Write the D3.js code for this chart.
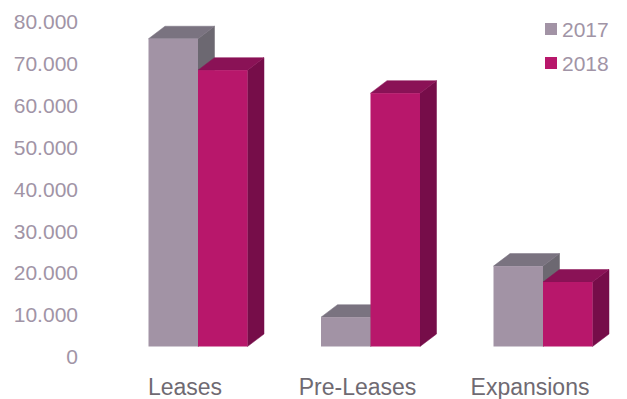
<!DOCTYPE html>
<html>
<head>
<meta charset="utf-8">
<script src="https://cdn.jsdelivr.net/npm/d3@7/dist/d3.min.js"></script>
<style>
  html, body { margin: 0; padding: 0; background: #fff; }
  svg { display: block; }
  text { font-family: "Liberation Sans", Arial, sans-serif; }
</style>
</head>
<body>
<div id="chart"></div>
<script>
const categories = ["Leases", "Pre-Leases", "Expansions"];
const seriesNames = ["2017", "2018"];
const values2017 = [73500, 7000, 19200];
const values2018 = [66000, 60500, 15400];
const tickValues = [0, 10000, 20000, 30000, 40000, 50000, 60000, 70000, 80000];
const tickLabels = ["0", "10.000", "20.000", "30.000", "40.000", "50.000", "60.000", "70.000", "80.000"];

const width = 627, height = 399;
const baseY = 346.5;       // front edge of the bar floor
const depthX = 16.5, depthY = 12.5;   // oblique extrusion of the columns

// face, top and side shades per series
const shades = {
  "2017": { front: "#a293a5", top: "#7a7380", side: "#6c6871" },
  "2018": { front: "#b8176b", top: "#8a1256", side: "#760d49" }
};

const svg = d3.select("#chart").append("svg")
  .attr("width", width).attr("height", height);

const y = d3.scaleLinear().domain([0, 80000]).range([baseY, baseY - 335]);

const x0 = d3.scaleBand().domain(categories)
  .range([111.75, 629.25]).paddingInner(0).paddingOuter(0);
const x1 = d3.scaleBand().domain(seriesNames).range([0, 99]);

const rows = categories.map((c, i) => ({
  category: c,
  bars: [
    { series: "2017", value: values2017[i] },
    { series: "2018", value: values2018[i] }
  ]
}));

const barLeft = c => x0(c) + (x0.bandwidth() - x1.bandwidth() * 2) / 2;

const groups = svg.append("g").selectAll("g").data(rows).join("g")
  .attr("transform", d => `translate(${barLeft(d.category)},0)`);

// Each column: back faces first, then the front, so a neighbour overlaps cleanly.
const column = groups.selectAll("g").data(d => d.bars).join("g");

column.append("path")
  .attr("fill", d => shades[d.series].side)
  .attr("stroke", d => shades[d.series].side).attr("stroke-width", 0.5)
  .attr("d", d => {
    const r = x1(d.series) + x1.bandwidth(), t = y(d.value);
    return `M${r},${t}l${depthX},${-depthY}V${baseY - depthY}l${-depthX},${depthY}Z`;
  });

column.append("path")
  .attr("fill", d => shades[d.series].top)
  .attr("stroke", d => shades[d.series].top).attr("stroke-width", 0.5)
  .attr("d", d => {
    const l = x1(d.series), t = y(d.value);
    return `M${l},${t}l${depthX},${-depthY}h${x1.bandwidth()}l${-depthX},${depthY}Z`;
  });

column.append("rect")
  .attr("x", d => x1(d.series))
  .attr("y", d => y(d.value))
  .attr("width", x1.bandwidth())
  .attr("height", d => baseY - y(d.value))
  .attr("fill", d => shades[d.series].front);

// Value axis: labels only
const yAxis = d3.axisLeft(y)
  .tickValues(tickValues)
  .tickFormat((d, i) => tickLabels[i])
  .tickSize(0).tickPadding(0);
const yG = svg.append("g").attr("transform", "translate(78,10.5)").call(yAxis);
yG.select(".domain").remove();
yG.selectAll("text").attr("font-size", 21).attr("fill", "#a194a6")
  .style("font-family", '"Liberation Sans", Arial, sans-serif');

// Category axis: labels only
const xAxis = d3.axisBottom(x0).tickSize(0).tickPadding(0);
const xG = svg.append("g").attr("transform", "translate(-13,379)").call(xAxis);
xG.select(".domain").remove();
xG.selectAll("text").attr("font-size", 23).attr("fill", "#6f6a72")
  .style("font-family", '"Liberation Sans", Arial, sans-serif');

// Legend
const legendY = d3.scalePoint().domain(seriesNames).range([29, 63]);
const legend = svg.append("g").selectAll("g").data(seriesNames).join("g")
  .attr("transform", d => `translate(545,${legendY(d)})`);
legend.append("rect")
  .attr("x", 0).attr("y", -6).attr("width", 12).attr("height", 12)
  .attr("fill", d => shades[d].front);
legend.append("text")
  .attr("x", 17).attr("y", 0).attr("dy", "0.36em")
  .attr("font-size", 21).attr("fill", "#a194a6")
  .text(d => d);
</script>
</body>
</html>
